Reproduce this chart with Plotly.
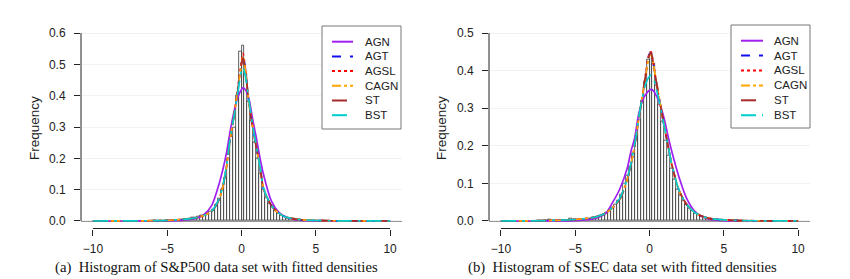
import numpy as np
import plotly.graph_objects as go

# page body has an 8px default margin: draw on an 842x271 figure offset by 8px
OX, OY = 8, 8
FW, FH = 842, 271

# ---------------- data ----------------
series_names = ["AGN", "AGT", "AGSL", "CAGN", "ST", "BST"]
series_colors = ["#A020F0", "#1010F0", "#FF0000", "#FFA500", "#A52A2A", "#00CDCD"]
series_dash = ["solid", "dash", "dot", "dashdot", "longdash", "longdashdot"]

# histogram (a) S&P500, bins of width 0.2, centres from -4.9 to 4.9
sp_bin_centers = np.round(np.arange(-4.9, 4.95, 0.2), 2)
sp_hist = [0.002, 0.001, 0.002, 0.003, 0.004, 0.005, 0.006, 0.008, 0.010, 0.011,
           0.013, 0.016, 0.019, 0.024, 0.030, 0.038, 0.052, 0.072, 0.100, 0.140,
           0.200, 0.270, 0.300, 0.400, 0.540, 0.560, 0.470, 0.380, 0.320, 0.250,
           0.200, 0.150, 0.100, 0.075, 0.055, 0.045, 0.034, 0.025, 0.019, 0.014,
           0.011, 0.008, 0.007, 0.005, 0.006, 0.003, 0.002, 0.001, 0.001, 0.001]

# histogram (b) SSEC, centres from -6.9 to 5.9
ssec_bin_centers = np.round(np.arange(-6.9, 5.95, 0.2), 2)
ssec_hist = [0.000, 0.005, 0.000, 0.001, 0.000, 0.001, 0.000, 0.002, 0.006, 0.003,
             0.002, 0.003, 0.004, 0.005, 0.006, 0.007, 0.009, 0.011, 0.014, 0.018,
             0.022, 0.028, 0.035, 0.045, 0.055, 0.070, 0.100, 0.120, 0.145, 0.180,
             0.225, 0.270, 0.320, 0.370, 0.430, 0.440, 0.420, 0.360, 0.310, 0.265,
             0.215, 0.175, 0.140, 0.110, 0.085, 0.068, 0.055, 0.044, 0.034, 0.027,
             0.021, 0.016, 0.012, 0.009, 0.007, 0.005, 0.004, 0.003, 0.002, 0.002,
             0.001, 0.001, 0.001, 0.000, 0.001]

# fitted densities read at these x positions
dens_x = [-10, -8, -6, -5, -4, -3.5, -3, -2.5, -2, -1.5, -1.25, -1, -0.75, -0.5, -0.25,
          0, 0.1, 0.25, 0.5, 0.75, 1, 1.25, 1.5, 2, 2.5, 3, 3.5, 4, 5, 6, 8, 10]

sp_AGN = [0, 0, 0.0002, 0.0006, 0.002, 0.004, 0.009, 0.022, 0.05, 0.12, 0.165, 0.22, 0.29, 0.35, 0.395,
          0.42, 0.425, 0.42, 0.39, 0.325, 0.265, 0.2, 0.145, 0.065, 0.028, 0.012, 0.005, 0.002, 0.0005, 0.0001, 0, 0]
sp_AGT = [0, 0.0003, 0.001, 0.002, 0.005, 0.007, 0.011, 0.018, 0.031, 0.07, 0.11, 0.175, 0.265, 0.335, 0.42,
          0.505, 0.53, 0.49, 0.375, 0.30, 0.235, 0.17, 0.10, 0.05, 0.025, 0.012, 0.007, 0.004, 0.0015, 0.0008, 0.0003, 0]
sp_AGSL = [0, 0.0003, 0.001, 0.002, 0.005, 0.007, 0.011, 0.018, 0.032, 0.071, 0.111, 0.176, 0.266, 0.337, 0.425,
           0.51, 0.535, 0.492, 0.377, 0.30, 0.236, 0.17, 0.10, 0.05, 0.025, 0.012, 0.007, 0.004, 0.0015, 0.0008, 0.0003, 0]
sp_CAGN = [0, 0.0003, 0.001, 0.002, 0.005, 0.007, 0.011, 0.018, 0.031, 0.07, 0.11, 0.176, 0.266, 0.336, 0.42,
           0.50, 0.525, 0.485, 0.376, 0.302, 0.236, 0.171, 0.101, 0.05, 0.025, 0.012, 0.007, 0.004, 0.0015, 0.0008, 0.0003, 0]
sp_ST = [0, 0.0003, 0.001, 0.002, 0.005, 0.007, 0.011, 0.018, 0.031, 0.07, 0.11, 0.175, 0.266, 0.336, 0.418,
         0.50, 0.52, 0.485, 0.376, 0.30, 0.235, 0.17, 0.10, 0.05, 0.025, 0.012, 0.007, 0.004, 0.0015, 0.0008, 0.0003, 0]
sp_BST = [0, 0.0003, 0.001, 0.002, 0.005, 0.007, 0.011, 0.018, 0.032, 0.072, 0.112, 0.178, 0.268, 0.335, 0.41,
          0.48, 0.49, 0.465, 0.385, 0.305, 0.238, 0.172, 0.102, 0.05, 0.025, 0.012, 0.007, 0.004, 0.0015, 0.0008, 0.0003, 0]

ss_AGN = [0, 0, 0.0003, 0.001, 0.004, 0.009, 0.018, 0.048, 0.085, 0.14, 0.185, 0.22, 0.28, 0.318, 0.337,
          0.348, 0.35, 0.347, 0.33, 0.305, 0.27, 0.225, 0.185, 0.115, 0.06, 0.028, 0.012, 0.005, 0.001, 0.0003, 0, 0]
ss_AGT = [0, 0.0005, 0.002, 0.004, 0.008, 0.012, 0.02, 0.035, 0.058, 0.11, 0.15, 0.2, 0.265, 0.325, 0.39,
          0.445, 0.448, 0.42, 0.36, 0.305, 0.25, 0.2, 0.15, 0.08, 0.044, 0.024, 0.013, 0.007, 0.003, 0.0012, 0.0004, 0]
ss_AGSL = [0, 0.0005, 0.002, 0.004, 0.008, 0.012, 0.02, 0.035, 0.058, 0.11, 0.151, 0.201, 0.266, 0.327, 0.393,
           0.447, 0.45, 0.422, 0.36, 0.305, 0.25, 0.2, 0.15, 0.08, 0.044, 0.024, 0.013, 0.007, 0.003, 0.0012, 0.0004, 0]
ss_CAGN = [0, 0.0005, 0.002, 0.004, 0.008, 0.012, 0.02, 0.035, 0.058, 0.11, 0.15, 0.2, 0.266, 0.326, 0.39,
           0.44, 0.445, 0.42, 0.362, 0.306, 0.251, 0.2, 0.15, 0.08, 0.044, 0.024, 0.013, 0.007, 0.003, 0.0012, 0.0004, 0]
ss_ST = [0, 0.0005, 0.002, 0.004, 0.008, 0.012, 0.02, 0.035, 0.058, 0.11, 0.15, 0.2, 0.265, 0.325, 0.39,
         0.443, 0.447, 0.42, 0.36, 0.305, 0.25, 0.2, 0.15, 0.08, 0.044, 0.024, 0.013, 0.007, 0.003, 0.0012, 0.0004, 0]
ss_BST = [0, 0.0005, 0.002, 0.004, 0.008, 0.012, 0.02, 0.036, 0.06, 0.112, 0.152, 0.203, 0.268, 0.325, 0.365,
          0.385, 0.388, 0.38, 0.345, 0.3, 0.25, 0.2, 0.15, 0.08, 0.044, 0.024, 0.013, 0.007, 0.003, 0.0012, 0.0004, 0]

sp_curves = [sp_AGN, sp_AGT, sp_AGSL, sp_CAGN, sp_ST, sp_BST]
ss_curves = [ss_AGN, ss_AGT, ss_AGSL, ss_CAGN, ss_ST, ss_BST]

x_ticks = [-10, -5, 0, 5, 10]
sp_y_ticks = [0.0, 0.1, 0.2, 0.3, 0.4, 0.5, 0.6]
ss_y_ticks = [0.0, 0.1, 0.2, 0.3, 0.4, 0.5]
captions = ["(a)\u00a0 Histogram of S&P500 data set with fitted densities",
            "(b)\u00a0 Histogram of SSEC data set with fitted densities"]

# ---------------- layout helpers (reference-window pixels -> paper) ----------------
def px(x):
    return (x - OX) / FW

def py(y):
    return 1 - (y - OY) / FH

fig = go.Figure()

panels = [
    dict(xa="x", ya="y", bins=sp_bin_centers, hist=sp_hist, curves=sp_curves,
         yt=sp_y_ticks, leg=(322, 401, 26, 129), leg_line=(332, 353),
         leg_text=363, leg_y0=41.7, leg_dy=14.7, ytitle_x=34, cap_x=216),
    dict(xa="x2", ya="y2", bins=ssec_bin_centers, hist=ssec_hist, curves=ss_curves,
         yt=ss_y_ticks, leg=(731, 810, 25, 128), leg_line=(741, 763),
         leg_text=772, leg_y0=40.7, leg_dy=14.9, ytitle_x=441, cap_x=622),
]

shapes = []
annotations = []
dom_y = (py(228.5), py(25.5))

for i, p in enumerate(panels):
    fig.add_trace(go.Bar(x=p["bins"], y=p["hist"], width=0.2, xaxis=p["xa"], yaxis=p["ya"],
                         marker=dict(color="white", line=dict(color="#1a1a1a", width=0.7)),
                         showlegend=False, hoverinfo="skip"))
    for name, col, dash, vals in zip(series_names, series_colors, series_dash, p["curves"]):
        fig.add_trace(go.Scatter(x=dens_x, y=vals, mode="lines", name=name,
                                 xaxis=p["xa"], yaxis=p["ya"], showlegend=False,
                                 line=dict(color=col, width=1.7, dash=dash, shape="spline", smoothing=0.8)))
    ymax = p["yt"][-1]
    ax_suffix = "" if i == 0 else "2"
    xref_dom = f"x{ax_suffix} domain"
    yref_dom = f"y{ax_suffix} domain"
    # axis lines (R style: from first to last tick)
    shapes.append(dict(type="line", xref=xref_dom, yref=p["ya"], x0=0, x1=0, y0=0, y1=ymax,
                       line=dict(color="#222", width=1)))
    shapes.append(dict(type="line", xref=p["xa"], yref=yref_dom, x0=-10, x1=10, y0=0, y1=0,
                       line=dict(color="#222", width=1)))
    # baseline at 0
    shapes.append(dict(type="line", xref=xref_dom, yref=p["ya"], x0=0, x1=1, y0=0, y1=0,
                       line=dict(color="#222", width=1), layer="below"))
    # legend box
    lx0, lx1, ly0, ly1 = p["leg"]
    shapes.append(dict(type="rect", xref="paper", yref="paper", x0=px(lx0), x1=px(lx1),
                       y0=py(ly1), y1=py(ly0), line=dict(color="#777", width=1),
                       fillcolor="white"))
    for k, (name, col, dash) in enumerate(zip(series_names, series_colors, series_dash)):
        yy = p["leg_y0"] + k * p["leg_dy"]
        shapes.append(dict(type="line", xref="paper", yref="paper",
                           x0=px(p["leg_line"][0]), x1=px(p["leg_line"][1]), y0=py(yy), y1=py(yy),
                           line=dict(color=col, width=2, dash=dash)))
        annotations.append(dict(text=name, xref="paper", yref="paper", x=px(p["leg_text"]), y=py(yy),
                                xanchor="left", yanchor="middle", showarrow=False,
                                font=dict(family="Liberation Sans, Arial", size=11.5, color="#222")))
    # y title
    annotations.append(dict(text="Frequency", xref="paper", yref="paper", x=px(p["ytitle_x"]), y=py(128),
                            textangle=-90, showarrow=False, xanchor="center", yanchor="middle",
                            font=dict(family="Liberation Sans, Arial", size=13.5, color="#222")))
    # caption
    annotations.append(dict(text=captions[i], xref="paper", yref="paper", x=px(p["cap_x"]), y=py(267),
                            showarrow=False, xanchor="center", yanchor="middle",
                            font=dict(family="Liberation Serif, Times New Roman", size=14.7, color="#111")))

axis_font = dict(family="Liberation Sans, Arial", size=12, color="#222")
common_x = dict(range=[-10.8, 10.8], showgrid=False, zeroline=False, showline=False,
                ticks="outside", ticklen=6, tickcolor="#222", tickwidth=1, tickvals=x_ticks,
                tickfont=axis_font, ticklabelstandoff=3, fixedrange=True)
common_y = dict(zeroline=False, showline=False, ticks="outside", ticklen=6, tickcolor="#222",
                tickwidth=1, tickfont=axis_font, showgrid=True, gridcolor="#f2f2f2",
                gridwidth=1, ticklabelstandoff=6, tickformat=".1f", fixedrange=True)

fig.update_layout(
    width=FW, height=FH,
    margin=dict(l=0, r=0, t=0, b=0),
    paper_bgcolor="white", plot_bgcolor="white",
    bargap=0, barmode="overlay", showlegend=False,
    xaxis=dict(domain=[px(81), px(402)], anchor="y", **common_x),
    yaxis=dict(domain=list(dom_y), anchor="x", range=[-0.024, 0.624], tickvals=sp_y_ticks, **common_y),
    xaxis2=dict(domain=[px(489), px(810)], anchor="y2", **common_x),
    yaxis2=dict(domain=list(dom_y), anchor="x2", range=[-0.02, 0.52], tickvals=ss_y_ticks, **common_y),
    shapes=shapes,
    annotations=annotations,
)

fig.write_html("out.html")
